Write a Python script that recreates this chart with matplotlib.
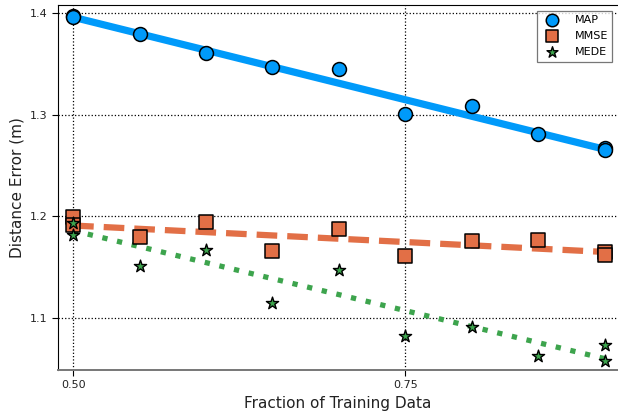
import numpy as np
import matplotlib.pyplot as plt

# training fractions (first and last fractions were run twice)
frac = [0.50, 0.50, 0.55, 0.60, 0.65, 0.70, 0.75, 0.80, 0.85, 0.90, 0.90]

err_map = [1.397, 1.396, 1.379, 1.361, 1.347, 1.345, 1.301, 1.309, 1.281, 1.267, 1.265]
err_mmse = [1.199, 1.192, 1.180, 1.194, 1.166, 1.188, 1.161, 1.176, 1.177, 1.165, 1.162]
err_mede = [1.193, 1.182, 1.151, 1.167, 1.115, 1.147, 1.082, 1.091, 1.063, 1.073, 1.058]

# linear trend endpoints at frac 0.50 and 0.90
fit_x = [0.50, 0.90]
fit_map = [1.396, 1.266]
fit_mmse = [1.191, 1.165]
fit_mede = [1.186, 1.060]

c_map = "#009afa"
c_mmse = "#e26f46"
c_mede = "#3da44d"

fig = plt.figure(figsize=(6.18, 4.16), dpi=100)
ax = fig.add_axes([0.094, 0.111, 0.906, 0.877])

ax.plot(fit_x, fit_map, color=c_map, lw=5.2, solid_capstyle="butt", zorder=2)
ax.plot(fit_x, fit_mmse, color=c_mmse, lw=4.5, ls=(0, (3.3, 1.6)), zorder=2)
ax.plot(fit_x, fit_mede, color=c_mede, lw=3.8, ls=(0, (1, 1.85)), zorder=2)

ax.scatter(frac, err_map, s=100, marker="o", color=c_map, edgecolors="black",
           linewidths=1.1, label="MAP", zorder=3)
ax.scatter(frac, err_mmse, s=90, marker="s", color=c_mmse, edgecolors="black",
           linewidths=1.1, label="MMSE", zorder=3)
ax.scatter(frac, err_mede, s=85, marker="*", color=c_mede, edgecolors="black",
           linewidths=1.0, label="MEDE", zorder=3)

ax.set_xlim(0.4887, 0.910)
ax.set_ylim(1.049, 1.408)
ax.set_xticks([0.50, 0.75])
ax.set_xticklabels(["0.50", "0.75"])
ax.set_yticks([1.1, 1.2, 1.3, 1.4])
ax.tick_params(labelsize=8, length=4, width=0.8, colors="black")
ax.tick_params(axis="x", labelcolor="#222222")
ax.tick_params(axis="y", labelcolor="#222222")
ax.grid(True, ls=":", lw=0.9, color="black")
ax.set_axisbelow(True)

ax.spines["right"].set_visible(False)
ax.spines["bottom"].set_color("#777777")
ax.spines["bottom"].set_linewidth(1.4)

ax.set_xlabel("Fraction of Training Data", fontsize=11, color="#222222")
ax.set_ylabel("Distance Error (m)", fontsize=11, color="#222222")

leg = ax.legend(loc="upper right", fontsize=8, frameon=True, fancybox=False,
                edgecolor="#555555", handletextpad=1.0, borderpad=0.4,
                labelspacing=0.55, borderaxespad=0.5, markerscale=0.9)
leg.get_frame().set_linewidth(0.9)

fig.savefig("out.png", dpi=100)
